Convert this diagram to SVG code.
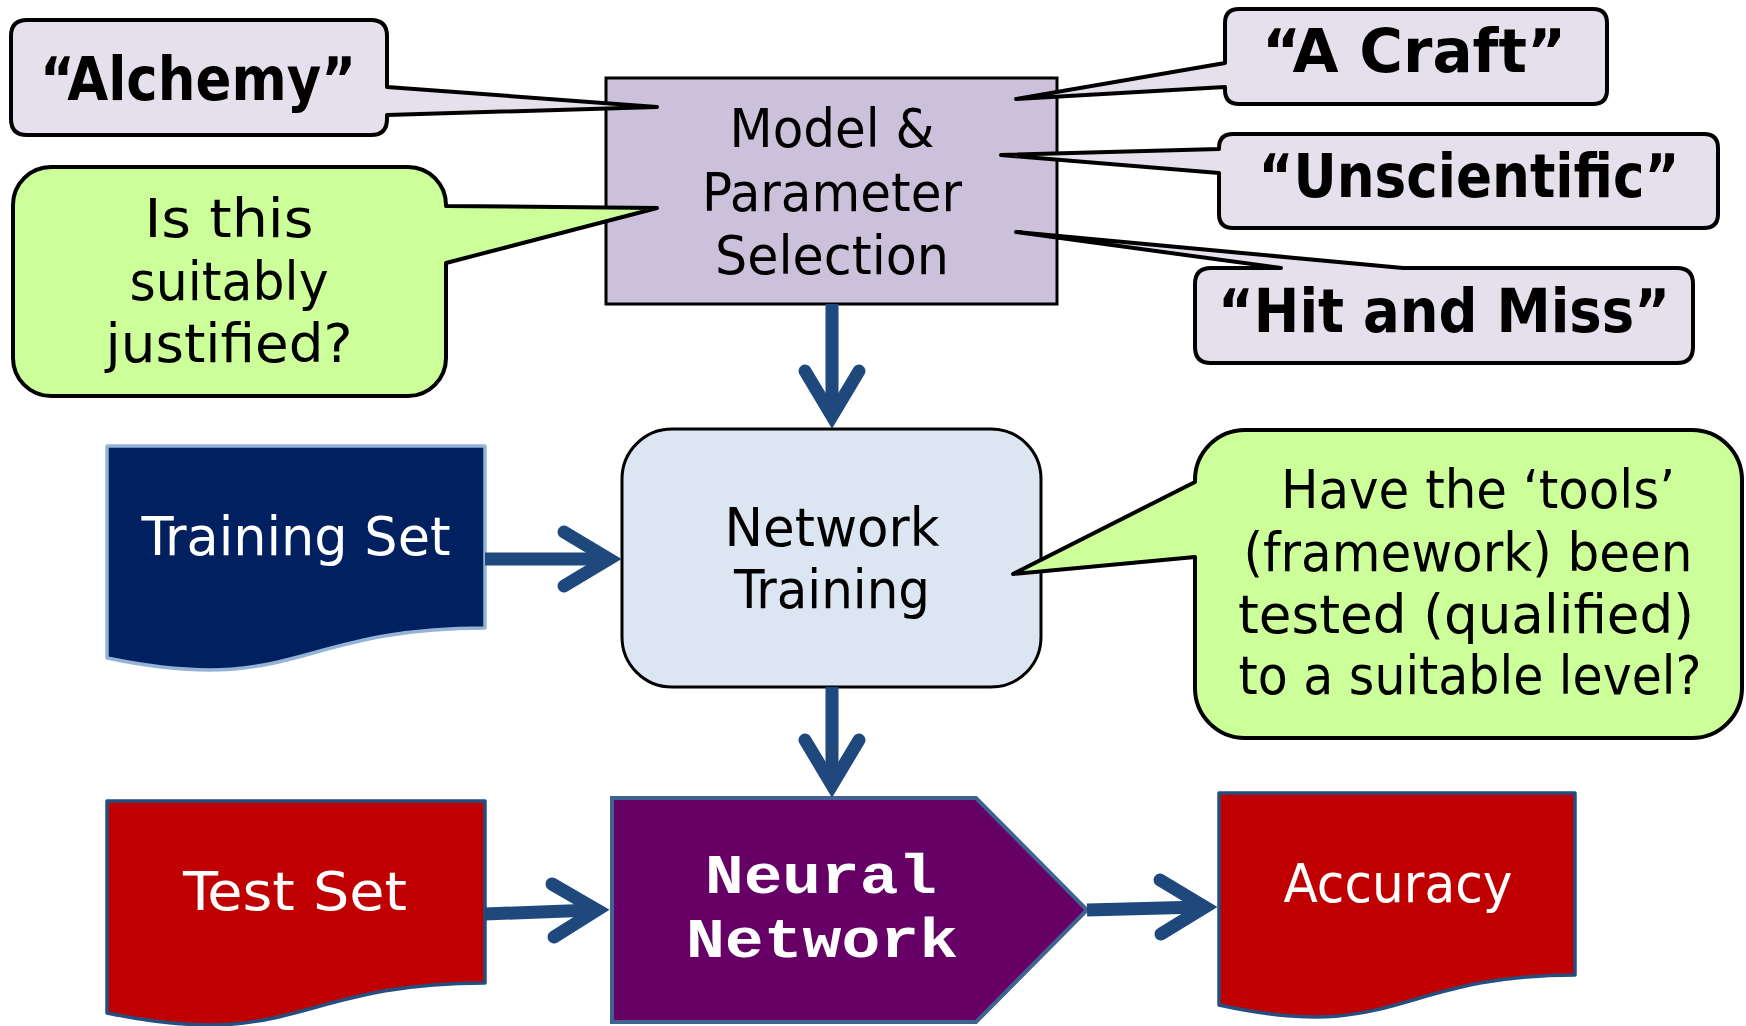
<svg xmlns="http://www.w3.org/2000/svg" width="1746" height="1026" viewBox="0 0 1746 1026">
  <style>
    .t{font-family:"DejaVu Sans Condensed","DejaVu Sans",sans-serif;font-size:54px;text-anchor:middle;fill:#000}
    .b{font-weight:bold;font-size:60px}
    .w{fill:#fff}
    .mono{font-family:"Liberation Mono","Courier New",monospace;font-weight:bold;font-size:56px;fill:#fff;text-anchor:middle}
    .callout{stroke:#000;stroke-width:4;stroke-linejoin:round}
    .quote{fill:#E6E0EC}
    .green{fill:#CCFF99}
    .box{stroke:#000;stroke-width:3}
    .doc{stroke-width:3.5;stroke-linejoin:round}
    .shaft{fill:none;stroke:#1F497D;stroke-width:13;stroke-linecap:butt}
    .head{fill:none;stroke:#1F497D;stroke-width:13;stroke-linecap:round;stroke-linejoin:miter}
  </style>
  <rect width="1746" height="1026" fill="#fff"/>

  <!-- main process boxes -->
  <g id="model-selection">
    <rect class="box" x="606" y="78" width="451" height="226" fill="#CCC1DA"/>
    <text class="t" x="832" y="147" textLength="205" lengthAdjust="spacingAndGlyphs">Model &amp;</text>
    <text class="t" x="832" y="211" textLength="260" lengthAdjust="spacingAndGlyphs">Parameter</text>
    <text class="t" x="832" y="274" textLength="234" lengthAdjust="spacingAndGlyphs">Selection</text>
  </g>

  <g id="network-training">
    <rect class="box" x="622" y="429" width="419" height="258" rx="50" fill="#DCE6F2"/>
    <text class="t" x="832" y="546" textLength="215" lengthAdjust="spacingAndGlyphs">Network</text>
    <text class="t" x="832" y="608" textLength="196" lengthAdjust="spacingAndGlyphs">Training</text>
  </g>

  <!-- callouts around the selection step -->
  <g id="callout-alchemy">
    <path class="callout quote" d="M27,20 H371 Q387,20 387,36 V87 L657,107 L387,115 V119 Q387,135 371,135 H27 Q11,135 11,119 V36 Q11,20 27,20 Z"/>
    <text class="t b" x="198" y="100" textLength="316" lengthAdjust="spacingAndGlyphs">“Alchemy”</text>
  </g>

  <g id="callout-justified">
    <path class="callout green" d="M51,167 H408 A38,38 0 0 1 446,205 V206 L657,208 L446,263 V358 A38,38 0 0 1 408,396 H51 A38,38 0 0 1 13,358 V205 A38,38 0 0 1 51,167 Z"/>
    <text class="t" x="229" y="237" textLength="169" lengthAdjust="spacingAndGlyphs">Is this</text>
    <text class="t" x="229" y="300" textLength="199" lengthAdjust="spacingAndGlyphs">suitably</text>
    <text class="t" x="229" y="362" textLength="247" lengthAdjust="spacingAndGlyphs">justified?</text>
  </g>

  <g id="callout-craft">
    <path class="callout quote" d="M1239,9 H1593 Q1607,9 1607,23 V90 Q1607,104 1593,104 H1239 Q1225,104 1225,90 V87 L1016,99 L1225,63 V23 Q1225,9 1239,9 Z"/>
    <text class="t b" x="1414" y="72" textLength="304" lengthAdjust="spacingAndGlyphs">“A Craft”</text>
  </g>

  <g id="callout-unscientific">
    <path class="callout quote" d="M1233,134 H1704 Q1718,134 1718,148 V214 Q1718,228 1704,228 H1233 Q1219,228 1219,214 V173 L1001,155 L1219,149 V148 Q1219,134 1233,134 Z"/>
    <text class="t b" x="1469" y="197" textLength="421" lengthAdjust="spacingAndGlyphs">“Unscientific”</text>
  </g>

  <g id="callout-hit-miss">
    <path class="callout quote" d="M1211,268 H1281 L1016,232 L1403,268 H1677 Q1693,268 1693,284 V347 Q1693,363 1677,363 H1211 Q1195,363 1195,347 V284 Q1195,268 1211,268 Z"/>
    <text class="t b" x="1444" y="332" textLength="452" lengthAdjust="spacingAndGlyphs">“Hit and Miss”</text>
  </g>

  <g id="callout-tools">
    <path class="callout green" d="M1245,430 H1692 A50,50 0 0 1 1742,480 V688 A50,50 0 0 1 1692,738 H1245 A50,50 0 0 1 1195,688 V557 L1013,574 L1195,482 V480 A50,50 0 0 1 1245,430 Z"/>
    <text class="t" x="1478" y="508" textLength="394" lengthAdjust="spacingAndGlyphs">Have the ‘tools’</text>
    <text class="t" x="1468" y="571" textLength="449" lengthAdjust="spacingAndGlyphs">(framework) been</text>
    <text class="t" x="1466" y="633" textLength="456" lengthAdjust="spacingAndGlyphs">tested (qualified)</text>
    <text class="t" x="1470" y="694" textLength="463" lengthAdjust="spacingAndGlyphs">to a suitable level?</text>
  </g>

  <!-- data documents -->
  <g id="training-set">
    <path class="doc" fill="#002060" stroke="#95B3D7" d="M107,446 H485 V628 C296,628 296,697 107,658 Z"/>
    <text class="t w" x="296" y="555" textLength="309" lengthAdjust="spacingAndGlyphs">Training Set</text>
  </g>

  <g id="test-set">
    <path class="doc" fill="#C00000" stroke="#254E80" d="M107,801 H485 V983 C296,983 296,1052 107,1013 Z"/>
    <text class="t w" x="295" y="910" textLength="224" lengthAdjust="spacingAndGlyphs">Test Set</text>
  </g>

  <g id="accuracy">
    <path class="doc" fill="#C00000" stroke="#254E80" d="M1219,793 H1575 V975 C1397,975 1397,1044 1219,1005 Z"/>
    <text class="t w" x="1398" y="902" textLength="229" lengthAdjust="spacingAndGlyphs">Accuracy</text>
  </g>

  <g id="neural-network">
    <path fill="#660066" stroke="#3F6391" stroke-width="4" stroke-linejoin="miter" d="M612,798 H976 L1087,910 L976,1022 H612 Z"/>
    <text class="mono" x="821" y="893" textLength="232" lengthAdjust="spacingAndGlyphs">Neural</text>
    <text class="mono" x="822" y="957" textLength="272" lengthAdjust="spacingAndGlyphs">Network</text>
  </g>

  <!-- flow arrows -->
  <g id="connectors">
    <path class="shaft" d="M832,304 V412"/>
    <path class="head" d="M805,371 L832,416 L859,371"/>

    <path class="shaft" d="M485,559 H605"/>
    <path class="head" d="M564,532 L609,559 L564,586"/>

    <path class="shaft" d="M832,687 V781"/>
    <path class="head" d="M805,740 L832,785 L859,740"/>

    <path class="shaft" d="M485,914 L593,910"/>
    <path class="head" d="M552,884 L597,910 L554,937"/>

    <path class="shaft" d="M1087,910 L1201,907"/>
    <path class="head" d="M1160,880 L1205,907 L1161,934"/>
  </g>
</svg>
